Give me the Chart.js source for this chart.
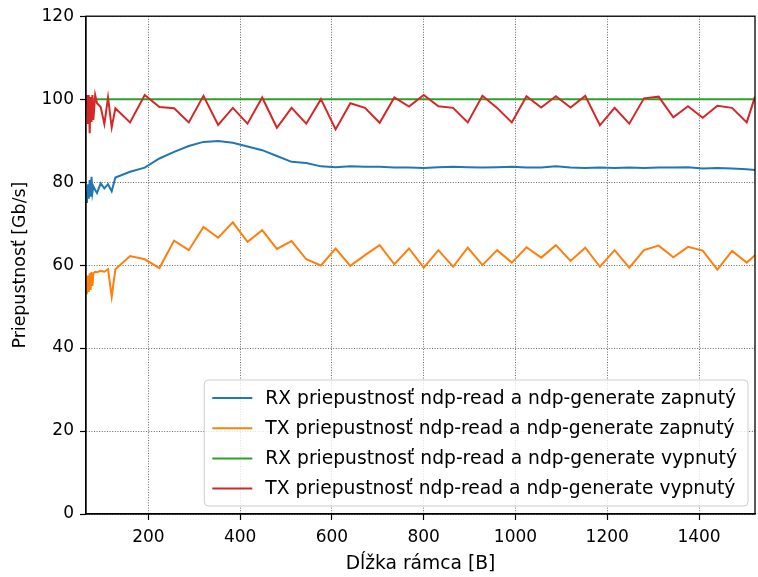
<!DOCTYPE html>
<html><head><meta charset="utf-8">
<script src="https://cdn.jsdelivr.net/npm/chart.js@4"></script>
<style>html,body{margin:0;padding:0;background:#fff}canvas{display:block}</style>
</head><body>
<canvas id="c" width="758" height="577"></canvas>
<script>
// Frame length [B]
const frameLengths = [64,66,68,70,72,74,76,78,80,84,88,96,104,112,120,128,
  160,192,224,256,288,320,352,384,416,448,480,512,544,576,608,640,672,704,736,768,800,832,864,896,928,960,992,
  1024,1056,1088,1120,1152,1184,1216,1248,1280,1312,1344,1376,1408,1440,1472,1504,1522];

// RX throughput, ndp-read & ndp-generate on
const rxOn = [78.0,75.0,79.5,76.0,80.5,76.5,81.3,77.5,79.0,78.1,77.4,79.7,78.5,79.5,77.8,81.1,
  82.5,83.5,85.7,87.3,88.7,89.7,89.9,89.5,88.6,87.7,86.3,84.9,84.6,83.8,83.6,83.8,83.7,83.7,83.5,83.5,83.4,83.6,83.7,83.6,83.5,83.6,83.7,
  83.5,83.5,83.8,83.5,83.4,83.5,83.4,83.5,83.4,83.5,83.5,83.6,83.3,83.4,83.3,83.1,82.9];

// TX throughput, ndp-read & ndp-generate on
const txOn = [56.0,53.0,57.5,53.5,58.0,54.0,58.3,55.0,58.0,58.4,58.3,58.6,58.4,59.0,52.4,59.0,
  62.2,61.4,59.3,65.9,63.6,69.2,66.6,70.3,65.6,68.4,63.9,65.8,61.4,59.9,64.0,59.8,62.4,64.8,60.2,64.0,59.4,63.6,59.6,64.2,60.0,63.6,60.6,
  64.3,61.8,64.8,61.0,64.2,59.6,63.6,59.4,63.6,64.7,61.9,64.4,63.5,58.9,63.4,60.6,62.4];

// RX throughput, ndp-read & ndp-generate off
const rxOff = [100,100,100,100,100,100,100,100,100,100,100,100,100,100,100,100,
  100,100,100,100,100,100,100,100,100,100,100,100,100,100,100,100,100,100,100,100,100,100,100,100,100,100,100,
  100,100,100,100,100,100,100,100,100,100,100,100,100,100,100,100,100];

// TX throughput, ndp-read & ndp-generate off
const txOff = [99.0,101.0,94.0,101.0,91.8,100.5,94.5,101.0,95.0,101.0,99.0,98.1,94.0,100.4,93.2,97.8,
  94.4,101.0,98.1,97.8,94.4,100.8,93.8,97.9,94.1,100.4,93.1,97.9,94.1,100.0,92.7,99.0,97.9,94.3,100.4,98.2,101.0,98.3,97.9,94.4,100.8,97.9,94.4,
  100.7,98.0,100.7,98.0,100.8,93.7,97.9,94.1,100.2,100.6,95.6,98.3,95.5,98.4,97.9,94.4,100.6];

const seriesLabels = [
  'RX priepustnosť ndp-read a ndp-generate zapnutý',
  'TX priepustnosť ndp-read a ndp-generate zapnutý',
  'RX priepustnosť ndp-read a ndp-generate vypnutý',
  'TX priepustnosť ndp-read a ndp-generate vypnutý'
];
const seriesColors = ['#1f77b4','#ff7f0e','#2ca02c','#d62728'];
const xTicks = [200,400,600,800,1000,1200,1400];
const yTicks = [0,20,40,60,80,100,120];
const xTitle = 'Dĺžka rámca [B]';
const yTitle = 'Priepustnosť [Gb/s]';

const FONT = '"DejaVu Sans"';
const FS = 17;     // tick labels
const FL = 18.7;   // legend & x title
const FY = 17.4;   // y title
Chart.defaults.font.family = FONT;
Chart.defaults.color = '#000';

const allSeries = [rxOn, txOn, rxOff, txOff];
const datasets = allSeries.map((vals, i) => ({
  label: seriesLabels[i],
  data: frameLengths.map((x, k) => ({x: x, y: vals[k]})),
  borderColor: seriesColors[i],
  backgroundColor: seriesColors[i],
  borderWidth: 2,
  pointRadius: 0,
  tension: 0,
  fill: false,
  order: 3 - i
}));

const gridColor = 'rgba(0,0,0,0.6)';

const mplLegend = {
  id: 'mplLegend',
  afterDraw(chart) {
    const ctx = chart.ctx, a = chart.chartArea;
    ctx.save();
    // axes frame
    ctx.strokeStyle = '#000';
    ctx.lineWidth = 1.3;
    ctx.strokeRect(a.left, a.top, a.right - a.left, a.bottom - a.top);
    // legend
    ctx.font = FL + 'px ' + FONT;
    const maxW = Math.max(...seriesLabels.map(t => ctx.measureText(t).width));
    const boxRight = a.right - 7;
    const boxBottom = a.bottom - 8;
    const boxTop = boxBottom - 126;
    const textLeft = boxRight - 11 - maxW;
    const handleEnd = textLeft - 13;
    const handleStart = handleEnd - 40;
    const boxLeft = handleStart - 8;
    const r = 4;
    ctx.beginPath();
    ctx.moveTo(boxLeft + r, boxTop);
    ctx.lineTo(boxRight - r, boxTop);
    ctx.arcTo(boxRight, boxTop, boxRight, boxTop + r, r);
    ctx.lineTo(boxRight, boxBottom - r);
    ctx.arcTo(boxRight, boxBottom, boxRight - r, boxBottom, r);
    ctx.lineTo(boxLeft + r, boxBottom);
    ctx.arcTo(boxLeft, boxBottom, boxLeft, boxBottom - r, r);
    ctx.lineTo(boxLeft, boxTop + r);
    ctx.arcTo(boxLeft, boxTop, boxLeft + r, boxTop, r);
    ctx.closePath();
    ctx.fillStyle = 'rgba(255,255,255,0.8)';
    ctx.fill();
    ctx.strokeStyle = '#cccccc';
    ctx.lineWidth = 1;
    ctx.stroke();
    ctx.textBaseline = 'middle';
    ctx.textAlign = 'left';
    seriesLabels.forEach((t, i) => {
      const y = boxTop + 18 + i * 30.2;
      ctx.strokeStyle = seriesColors[i];
      ctx.lineWidth = 2;
      ctx.beginPath();
      ctx.moveTo(handleStart, y);
      ctx.lineTo(handleEnd, y);
      ctx.stroke();
      ctx.fillStyle = '#000';
      ctx.fillText(t, textLeft, y + 1);
    });
    ctx.restore();
  }
};

new Chart(document.getElementById('c'), {
  type: 'line',
  data: { datasets },
  plugins: [mplLegend],
  options: {
    responsive: false,
    animation: false,
    events: [],
    layout: { padding: { top: 16, right: 3, left: 0, bottom: 0 } },
    plugins: { legend: { display: false }, tooltip: { enabled: false } },
    scales: {
      x: {
        type: 'linear', min: 64, max: 1522,
        afterBuildTicks: s => { s.ticks = xTicks.map(v => ({value: v})); },
        afterFit: s => { s.height = 63; },
        grid: { color: gridColor, lineWidth: 1, drawTicks: true, tickLength: 6, tickColor: '#000', tickWidth: 1.2 },
        border: { display: true, color: '#000', width: 1.2, dash: [1, 1.6] },
        ticks: { font: { size: FS }, color: '#000', padding: 7, maxRotation: 0, autoSkip: false,
                 callback: v => String(v) },
        title: { display: true, text: xTitle, font: { size: FL }, color: '#000', padding: { top: 4, bottom: 2 } }
      },
      y: {
        type: 'linear', min: 0, max: 120,
        afterBuildTicks: s => { s.ticks = yTicks.map(v => ({value: v})); },
        afterFit: s => { s.width = 86; },
        grid: { color: gridColor, lineWidth: 1, drawTicks: true, tickLength: 6, tickColor: '#000', tickWidth: 1.2 },
        border: { display: true, color: '#000', width: 1.2, dash: [1, 1.6] },
        ticks: { font: { size: FS }, color: '#000', padding: 6, callback: v => String(v) },
        title: { display: true, text: yTitle, font: { size: FY }, color: '#000', padding: { top: 10, bottom: 4 } }
      }
    }
  }
});
</script>
</body></html>
